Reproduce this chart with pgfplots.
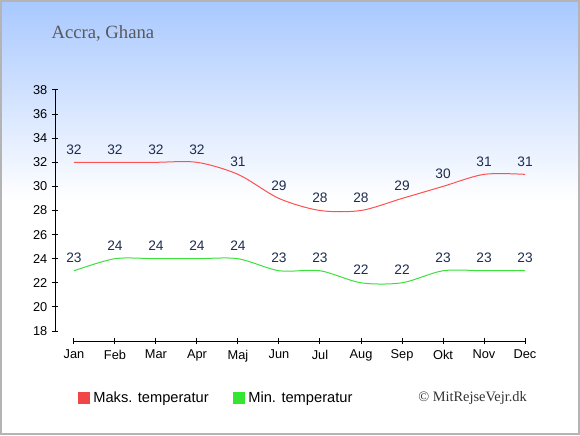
\documentclass[border=0pt]{standalone}
\usepackage{pgfplots}
\pgfplotsset{compat=1.18}
\usepackage{fontspec}
\setmainfont{Liberation Sans}
\newfontfamily\serifx{Liberation Serif}
\definecolor{bgtop}{RGB}{168,200,255}
\definecolor{maxc}{RGB}{255,80,80}
\definecolor{minc}{RGB}{60,225,60}
\definecolor{maxsq}{RGB}{240,70,70}
\definecolor{minsq}{RGB}{50,230,50}
\definecolor{lab}{RGB}{30,45,80}
\definecolor{frame}{RGB}{180,180,180}
\begin{document}
\begin{tikzpicture}
\fill[white] (0,0) rectangle (435pt,326.25pt);
\shade[top color=bgtop, bottom color=white] (0,176.25pt) rectangle (435pt,326.25pt);
\draw[frame, line width=1.5pt] (0.75pt,0.75pt) rectangle (434.25pt,325.5pt);
\node[anchor=base west, text=black!65, inner sep=0pt, font=\serifx\fontsize{14}{16}\selectfont] at (38.5pt,297pt) {Accra, Ghana};
\node[anchor=west, text=black!80, inner sep=0pt, font=\serifx\fontsize{10.8}{12}\selectfont] at (313.5pt,27.75pt) {© MitRejseVejr.dk};
\begin{axis}[
  at={(41.25pt,70.5pt)}, anchor=south west,
  scale only axis, width=352.5pt, height=188.25pt,
  xmin=-0.463, xmax=11, ymin=17.17, ymax=38,
  clip=false,
  axis lines=left,
  axis line style={draw=none},
  tick align=center,
  major tick length=4.5pt,
  tick style={black, line width=0.75pt},
  xtick={0,...,11},
  xticklabels={Jan,Feb,Mar,Apr,Maj,Jun,Jul,Aug,Sep,Okt,Nov,Dec},
  ytick={18,20,...,38},
  /pgf/number format/assume math mode=true,
  tick label style={font=\fontsize{9.6}{11}\selectfont, text=black},
  xticklabel style={yshift=-1pt},
  nodes near coords,
  nodes near coords style={anchor=center, yshift=9.75pt, text=lab, font=\fontsize{10.3}{12}\selectfont},
  legend columns=2,
  legend style={at={(rel axis cs:0.048,-0.227)}, anchor=west, draw=none, fill=none,
    inner sep=0pt, font=\fontsize{11}{13}\selectfont,
    /tikz/every even column/.style={column sep=15.5pt},
    nodes={inner sep=2.6pt}},
]
\draw[black, line width=0.75pt] (axis cs:0,17.17) -- (axis cs:11,17.17);
\draw[black, line width=0.75pt] (axis cs:-0.463,18) -- (axis cs:-0.463,38);
\addplot[maxc, line width=0.75pt, smooth, legend image code/.code={\fill[maxsq] (0pt,-4.1pt) rectangle (8.25pt,4.1pt);}] coordinates {
(0,32) (1,32) (2,32) (3,32) (4,31) (5,29) (6,28) (7,28) (8,29) (9,30) (10,31) (11,31)};
\addlegendentry{Maks. temperatur}
\addplot[minc, line width=0.75pt, smooth, legend image code/.code={\fill[minsq] (0pt,-4.1pt) rectangle (8.25pt,4.1pt);}] coordinates {
(0,23) (1,24) (2,24) (3,24) (4,24) (5,23) (6,23) (7,22) (8,22) (9,23) (10,23) (11,23)};
\addlegendentry{Min. temperatur}
\end{axis}
\end{tikzpicture}
\end{document}
